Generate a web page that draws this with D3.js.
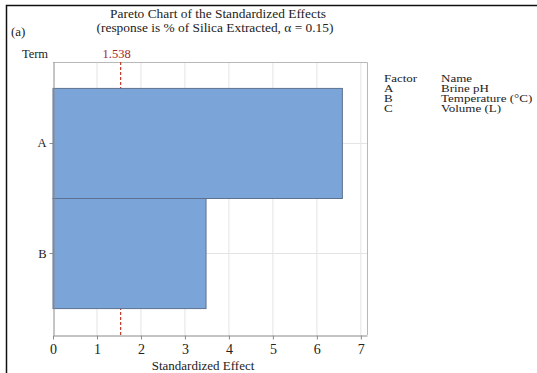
<!DOCTYPE html>
<html><head><meta charset="utf-8">
<script src="https://cdn.jsdelivr.net/npm/d3@7/dist/d3.min.js"></script>
<style>
body{margin:0;background:#fff;}
text{font-family:"Liberation Serif","DejaVu Serif",serif;fill:#222;}
</style></head>
<body><svg id="c" width="537" height="373"></svg>
<script>
const terms = ["A", "B"];
const effects = [6.58, 3.48];
const xTicks = [0, 1, 2, 3, 4, 5, 6, 7];
const refValue = 1.538;
const factorCodes = ["A", "B", "C"];
const factorNames = ["Brine pH", "Temperature (°C)", "Volume (L)"];
const titleLines = ["Pareto Chart of the Standardized Effects", "(response is % of Silica Extracted, α = 0.15)"];

const svg = d3.select("#c");
const L = 53, R = 367, T = 62, B = 335;
const x = d3.scaleLinear().domain([0, 7.14]).range([L, R]);
const y = d3.scaleBand().domain(terms).range([T, B]).paddingInner(0).paddingOuter(0.24);

// outer frame
svg.append("path").attr("d", `M6.5,373 L6.5,5.5 L537,5.5`).attr("fill", "none").attr("stroke", "#111").attr("stroke-width", 1.5);

// gridlines
svg.append("g").selectAll("line").data(xTicks.slice(1)).join("line")
  .attr("x1", d => x(d)).attr("x2", d => x(d)).attr("y1", T).attr("y2", B)
  .attr("stroke", "#e4e4e4").attr("stroke-width", 1);
svg.append("g").selectAll("line").data(terms).join("line")
  .attr("x1", L).attr("x2", R).attr("y1", d => y(d) + y.bandwidth() / 2).attr("y2", d => y(d) + y.bandwidth() / 2)
  .attr("stroke", "#e4e4e4").attr("stroke-width", 1);

// plot frame top/right
svg.append("path").attr("d", `M${L},${T + 0.5} L${R + 0.5},${T + 0.5} L${R + 0.5},${B}`)
  .attr("fill", "none").attr("stroke", "#b8b8b8");

// reference line (behind bars)
svg.append("line").attr("x1", x(refValue)).attr("x2", x(refValue)).attr("y1", T).attr("y2", B)
  .attr("stroke", "#c0392b").attr("stroke-width", 1.2).attr("stroke-dasharray", "3,2");
svg.append("text").attr("x", x(refValue) - 4).attr("y", 58).attr("text-anchor", "middle")
  .attr("font-size", 12.5).style("fill", "#a5262a").text(refValue.toFixed(3));

// bars
svg.append("g").selectAll("rect").data(terms).join("rect")
  .attr("x", x(0)).attr("y", d => y(d))
  .attr("width", (d, i) => x(effects[i]) - x(0)).attr("height", y.bandwidth())
  .attr("fill", "#7BA5D9").attr("stroke", "#5d7290").attr("stroke-width", 1);

// axes
const xAxis = d3.axisBottom(x).tickValues(xTicks).tickSize(4).tickSizeOuter(0).tickFormat(d3.format("d"));
const gx = svg.append("g").attr("transform", `translate(0,${B + 0.5})`).call(xAxis);
gx.select(".domain").attr("stroke", "#8a8a8a");
gx.selectAll(".tick line").attr("stroke", "#8a8a8a");
gx.selectAll(".tick text").attr("font-size", 14).attr("dy", "0.85em").attr("font-family", "Liberation Serif").style("fill", "#222");

const yAxis = d3.axisLeft(y).tickSize(4).tickSizeOuter(0).tickPadding(3);
const gy = svg.append("g").attr("transform", `translate(${L + 0.5},0)`).call(yAxis);
gy.select(".domain").attr("stroke", "#8a8a8a");
gy.selectAll(".tick line").attr("stroke", "#8a8a8a");
gy.selectAll(".tick text").attr("font-size", 12.5).attr("font-family", "Liberation Serif").style("fill", "#222");

// titles
svg.append("text").attr("x", 218).attr("y", 18).attr("text-anchor", "middle").attr("font-size", 13.4).text(titleLines[0]);
svg.append("text").attr("x", 215).attr("y", 32).attr("text-anchor", "middle").attr("font-size", 13.4).text(titleLines[1]);
svg.append("text").attr("x", 11).attr("y", 36).attr("font-size", 13).text("(a)");
svg.append("text").attr("x", 35).attr("y", 58).attr("text-anchor", "middle").attr("font-size", 12.5).text("Term");
svg.append("text").attr("x", 203).attr("y", 370).attr("text-anchor", "middle").attr("font-size", 13).text("Standardized Effect");

// legend (text slightly compressed vertically, as in the reference)
const lg = svg.append("g");
const rowY = i => 81.5 + i * 10;
function lgText(xp, yp, s) {
  lg.append("text").attr("transform", `translate(${xp},${yp}) scale(1,0.8)`)
    .attr("font-size", 13).text(s);
}
lgText(384, rowY(0), "Factor");
lgText(441, rowY(0), "Name");
factorCodes.forEach((d, i) => lgText(384, rowY(i + 1), d));
factorNames.forEach((d, i) => lgText(441, rowY(i + 1), d));
</script></body></html>
